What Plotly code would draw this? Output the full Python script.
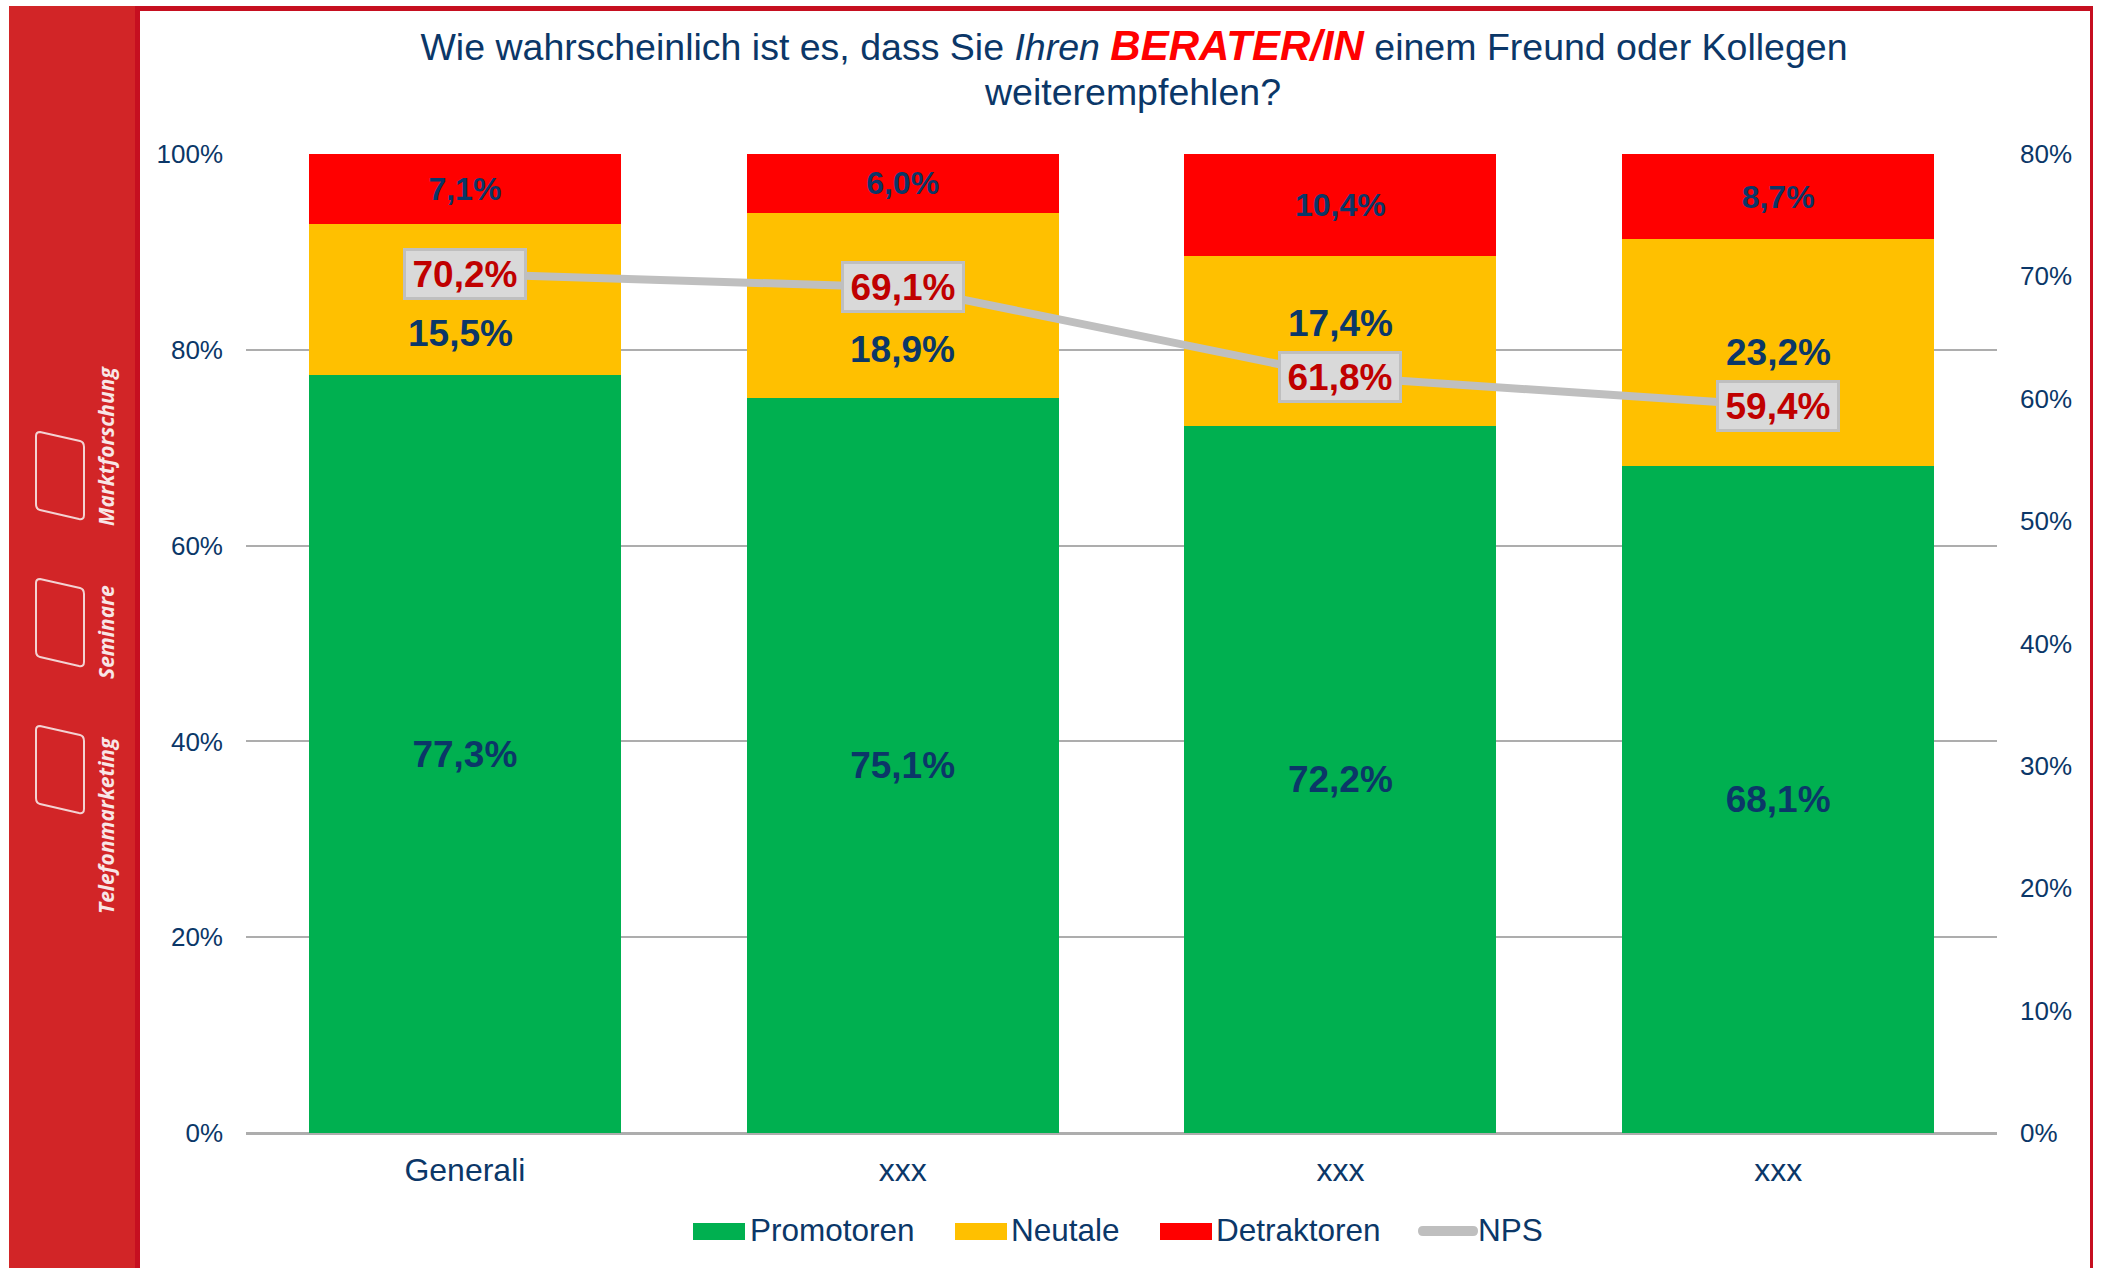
import plotly.graph_objects as go

categories = ["Generali", "xxx", "xxx", "xxx"]
series_names = ["Promotoren", "Neutale", "Detraktoren", "NPS"]
promotoren = [77.3, 75.1, 72.2, 68.1]
neutrale = [15.5, 18.9, 17.4, 23.2]
detraktoren = [7.1, 6.0, 10.4, 8.7]
nps = [70.2, 69.1, 61.8, 59.4]
neutrale_label_pos = [81.7, 80.0, 82.7, 79.7]

NAVY = "#0B3768"
FONT = "Liberation Sans"
GREEN, YELLOW, RED, GREY = "#00B050", "#FFC000", "#FF0000", "#BFBFBF"
GRID = "#ADADAD"
xpos = list(range(len(categories)))


def fmt(v):
    return f"{v:.1f}%".replace(".", ",")


def X(p):
    return (p - 246) / (1997 - 246)


def Y(p):
    return (1133 - p) / (1133 - 154)


fig = go.Figure()
for name, vals, col, size in [
    (series_names[0], promotoren, GREEN, 37),
    (series_names[1], neutrale, YELLOW, 37),
    (series_names[2], detraktoren, RED, 32),
]:
    show_text = name != series_names[1]
    fig.add_trace(go.Bar(
        x=xpos, y=vals, name=name, marker=dict(color=col, line=dict(width=0)),
        text=[fmt(v) for v in vals] if show_text else None,
        textposition="inside" if show_text else None,
        insidetextanchor="middle",
        textangle=0,
        textfont=dict(family=FONT, size=size, color=NAVY, weight="bold"),
        showlegend=False, hoverinfo="y",
    ))

fig.add_trace(go.Scatter(
    x=xpos, y=nps, name=series_names[3], yaxis="y2", mode="lines",
    line=dict(color=GREY, width=8), showlegend=False,
))

anns = []
for c, v, p in zip(xpos, neutrale, neutrale_label_pos):
    anns.append(dict(x=c, y=p, xref="x", yref="y", text=f"<b>{fmt(v)}</b>", showarrow=False,
                     xshift=-4 if c == 0 else 0,
                     font=dict(family=FONT, size=37, color=NAVY)))
for c, v in zip(xpos, nps):
    anns.append(dict(x=c, y=v, xref="x", yref="y2", text=f"<b>{fmt(v)}</b>", showarrow=False,
                     font=dict(family=FONT, size=37, color="#C00000"), width=118, height=46,
                     bgcolor="#D9D9D9", bordercolor=GREY, borderwidth=3, borderpad=0))

# second title line
anns.append(dict(x=X(1132), y=Y(92), xref="paper", yref="paper", text="weiterempfehlen?", showarrow=False,
                 xanchor="center", yanchor="middle", font=dict(family=FONT, size=37.5, color=NAVY)))

# side panel labels
for txt, px, py in [("Marktforschung", 106, 446), ("Seminare", 106, 632), ("Telefonmarketing", 106, 825)]:
    anns.append(dict(x=X(px), y=Y(py), xref="paper", yref="paper", text=f"<i><b>{txt}</b></i>", showarrow=False,
                     xanchor="center", yanchor="middle",
                     textangle=-90, font=dict(family="Open Sans", size=21, color="#F8E6E6")))

shapes = [
    dict(type="rect", xref="paper", yref="paper", x0=X(9), x1=X(136), y0=Y(6), y1=Y(1268),
         fillcolor="#D22527", line=dict(width=0), layer="below"),
    dict(type="rect", xref="paper", yref="paper", x0=X(135), x1=X(140), y0=Y(6), y1=Y(1268),
         fillcolor="#C60F20", line=dict(width=0), layer="below"),
    dict(type="rect", xref="paper", yref="paper", x0=X(135), x1=X(2093), y0=Y(6), y1=Y(11),
         fillcolor="#C60F20", line=dict(width=0), layer="below"),
    dict(type="rect", xref="paper", yref="paper", x0=X(2090), x1=X(2093), y0=Y(6), y1=Y(1268),
         fillcolor="#C60F20", line=dict(width=0), layer="below"),
]
for top in [432, 579, 726]:
    x0, x1 = 36, 84
    y0 = top
    path = (f"M {X(x0+4)},{Y(y0)} L {X(x1-4)},{Y(y0+9)} Q {X(x1)},{Y(y0+10)} {X(x1)},{Y(y0+15)} "
            f"L {X(x1)},{Y(y0+83)} Q {X(x1)},{Y(y0+88)} {X(x1-5)},{Y(y0+87)} "
            f"L {X(x0+4)},{Y(y0+78)} Q {X(x0)},{Y(y0+77)} {X(x0)},{Y(y0+72)} "
            f"L {X(x0)},{Y(y0+4)} Q {X(x0)},{Y(y0)} {X(x0+4)},{Y(y0)} Z")
    shapes.append(dict(type="path", xref="paper", yref="paper", path=path,
                       line=dict(color="#F3D3D3", width=2), fillcolor="rgba(0,0,0,0)"))

# legend
for name, col, rx0, rx1, tx in [(series_names[0], GREEN, 693, 745, 752),
                                (series_names[1], YELLOW, 955, 1007, 1013),
                                (series_names[2], RED, 1160, 1212, 1218)]:
    shapes.append(dict(type="rect", xref="paper", yref="paper", x0=X(rx0), x1=X(rx1), y0=Y(1223), y1=Y(1240),
                       fillcolor=col, line=dict(width=0)))
    anns.append(dict(x=X(tx), y=Y(1230), xref="paper", yref="paper", text=name, showarrow=False,
                     xanchor="left", yanchor="middle", xshift=-4,
                     font=dict(family=FONT, size=31.5, color=NAVY)))
lx0, lx1, ly0, ly1 = 1418, 1478, 1226, 1236
shapes.append(dict(type="path", xref="paper", yref="paper",
                   path=(f"M {X(lx0+5)},{Y(ly0)} L {X(lx1-5)},{Y(ly0)} Q {X(lx1)},{Y(ly0)} {X(lx1)},{Y(ly0+5)} "
                         f"Q {X(lx1)},{Y(ly1)} {X(lx1-5)},{Y(ly1)} L {X(lx0+5)},{Y(ly1)} "
                         f"Q {X(lx0)},{Y(ly1)} {X(lx0)},{Y(ly0+5)} Q {X(lx0)},{Y(ly0)} {X(lx0+5)},{Y(ly0)} Z"),
                   fillcolor=GREY, line=dict(width=0)))
anns.append(dict(x=X(1480), y=Y(1230), xref="paper", yref="paper", text=series_names[3], showarrow=False,
                 xanchor="left", yanchor="middle", xshift=-4,
                 font=dict(family=FONT, size=31.5, color=NAVY)))

title = ('Wie wahrscheinlich ist es, dass Sie <i>Ihren </i>'
         '<span style="color:#FF0000;font-size:42px"><b><i>BERATER/IN</i></b></span>'
         ' einem Freund oder Kollegen')

fig.update_layout(
    width=2101, height=1268, autosize=False,
    margin=dict(l=246, r=104, t=154, b=135, autoexpand=False),
    paper_bgcolor="white", plot_bgcolor="white",
    barmode="stack", barnorm="percent", bargap=1 - 312 / 437.75,
    font=dict(family=FONT, color=NAVY),
    showlegend=False,
    title=dict(text=title, font=dict(family=FONT, size=37.5, color=NAVY), x=1134 / 2101, xanchor="center",
               y=1 - 47 / 1268, yanchor="middle"),
    xaxis=dict(range=[-0.5, 3.5], tickvals=xpos, ticktext=categories, showgrid=False, showline=False,
               zeroline=False, ticks="", tickfont=dict(size=32, color=NAVY), ticklabelstandoff=15),
    yaxis=dict(range=[0, 100], tickvals=[0, 20, 40, 60, 80, 100], ticktext=[f"{v}%" for v in [0, 20, 40, 60, 80, 100]],
               gridcolor=GRID, gridwidth=2, zeroline=True, zerolinecolor=GRID, zerolinewidth=3,
               tickfont=dict(size=26, color=NAVY), ticklabelstandoff=22),
    yaxis2=dict(range=[0, 80], overlaying="y", side="right", tickvals=list(range(0, 90, 10)),
                ticktext=[f"{v}%" for v in range(0, 90, 10)], showgrid=False, zeroline=False,
                tickfont=dict(size=26, color=NAVY), ticklabelstandoff=22),
    annotations=anns, shapes=shapes,
)

fig.write_html("out.html", config={"displayModeBar": False},
               post_script="document.body.style.margin='0';document.documentElement.style.overflow='hidden';")
